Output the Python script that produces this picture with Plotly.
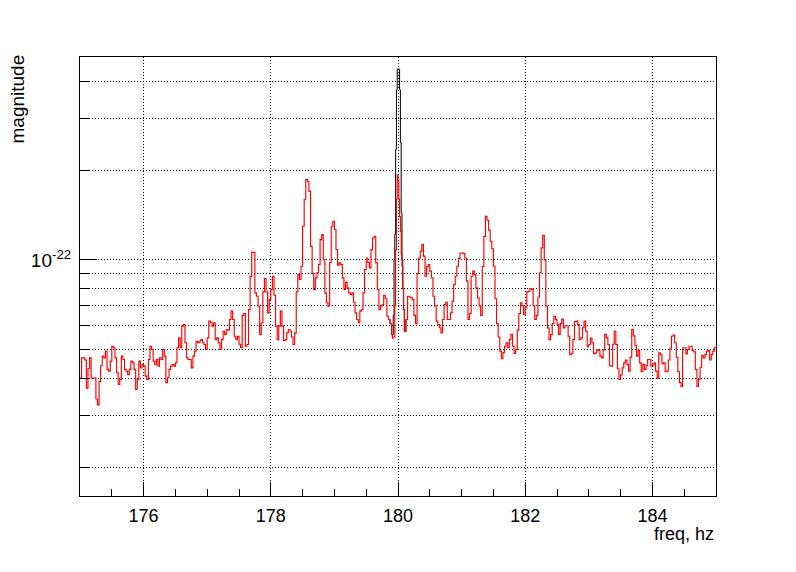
import numpy as np
import plotly.graph_objects as go

# magnitudes in units of 1e-23
SCALE = 1e-23
F_STEP = 0.025
left_start = 175.00
red_left = [
    4.0, 4.68, 4.68, 4.6, 3.7, 4.3, 4.68, 4.0, 4.0, 4.0,
    3.4, 3.25, 3.9, 4.4, 4.74, 4.68, 4.93, 4.28, 4.22, 4.56,
    5.12, 5.06, 4.68, 4.17, 3.81, 3.96, 4.74, 4.62, 4.28, 4.22,
    4.11, 4.28, 4.56, 4.5, 4.28, 3.66, 3.96, 4.56, 4.33, 4.44,
    4.39, 4.06, 3.96, 4.62, 5.12, 4.99, 4.56, 4.44, 4.62, 4.39,
    4.68, 4.62, 4.99, 4.74, 3.86, 4.01, 4.28, 4.39, 4.44, 4.39,
    4.5, 5.06, 5.46, 5.06, 5.98, 6.06, 5.26, 4.68, 4.62, 4.62,
    4.33, 4.74, 4.93, 5.32, 5.26, 5.32, 5.39, 5.26, 5.19, 4.99,
    5.46, 6.22, 6.14, 5.98, 6.14, 5.39, 5.46, 5.26, 4.99, 5.39,
    5.75, 5.61, 5.83, 5.8, 6.3, 6.72, 6.3, 5.53, 5.4, 5.53,
    5.2, 5.06, 6.5, 6.6, 5.12, 5.19, 6.8, 8.8, 10.6, 10.6,
    7.74, 7.54, 6.98, 5.61, 6.14, 7.8, 8.65, 7.8, 6.63, 7.35,
    7.94, 8.81, 7.6, 5.98, 5.39, 5.98, 6.72, 5.98, 5.35, 5.39,
    5.68, 5.83, 5.75, 5.5, 5.19, 5.68, 7.8, 8.92, 8.59, 9.52,
    12.98, 16.0, 18.63, 18.39, 17.0, 11.1, 9.0, 7.94, 8.7, 9.04,
    9.64, 11.7, 12.16, 10.02, 7.74, 7.17, 6.98, 9.8, 12.98, 13.49,
    12.65, 10.83, 9.6, 9.77, 9.64, 8.7, 7.94, 8.4, 8.05, 7.74,
    7.64, 7.74, 7.2, 6.63, 6.3, 6.14, 6.72, 6.8, 7.74, 9.28,
    10.15, 9.8, 9.4, 10.83, 11.85, 12.01, 9.77, 7.94, 6.8, 6.98,
    7.07, 7.6, 7.4, 6.46, 6.3, 6.1,
]
PEAK_STEP = 0.0125
peak_start = 179.90
red_peak = [5.6, 5.45, 5.5, 5.5, 7.0, 10.8, 16.0, 19.3,
            18.5, 16.0, 14.0, 12.5, 10.5, 9.5, 8.0, 6.8]
black_peak = [5.6, 5.6, 6.5, 10.0, 12.2, 23.5, 37.4, 43.9,
              43.9, 43.9, 37.4, 24.8, 14.4, 10.0, 8.0, 6.8]
right_start = 180.10
red_right = [
    5.75, 6.3, 7.54, 7.5, 7.45, 7.35, 6.5, 6.1, 9.0, 10.15,
    10.7, 11.26, 10.3, 8.81, 9.5, 9.64, 9.16, 8.7, 7.54, 7.0,
    6.22, 6.06, 5.91, 5.68, 6.3, 7.07, 7.2, 6.3, 6.3, 6.63,
    7.26, 8.26, 8.81, 9.52, 10.1, 10.55, 10.55, 10.5, 10.15, 8.5,
    6.3, 6.6, 8.81, 9.16, 8.9, 8.05, 7.45, 7.0, 6.5, 9.5,
    12.0, 14.02, 13.6, 12.6, 11.55, 10.9, 9.52, 7.4, 6.1, 5.5,
    4.93, 4.65, 4.87, 5.12, 5.26, 5.06, 5.39, 5.61, 5.12, 4.84,
    4.99, 5.8, 6.6, 7.17, 7.0, 6.55, 6.9, 7.8, 7.84, 8.0,
    7.94, 7.0, 6.3, 6.5, 7.5, 9.04, 10.97, 12.1, 10.0, 6.98,
    5.9, 5.39, 5.6, 6.1, 6.46, 6.3, 6.06, 5.61, 6.1, 6.32,
    5.9, 6.0, 6.0, 5.53, 4.8, 4.85, 5.39, 6.2, 6.22, 6.05,
    5.39, 5.46, 5.9, 6.22, 5.75, 5.1, 5.19, 5.45, 5.26, 4.83,
    4.86, 4.98, 4.96, 4.74, 4.68, 4.98, 5.61, 5.46, 5.19, 4.4,
    4.39, 5.2, 5.75, 5.19, 4.3, 3.96, 4.1, 4.33, 4.5, 4.6,
    4.44, 4.22, 4.7, 5.83, 5.55, 5.15, 4.74, 4.96, 4.5, 4.2,
    4.45, 4.28, 4.4, 4.62, 4.62, 4.39, 4.42, 4.5, 4.22, 4.0,
    4.86, 4.8, 4.47, 4.5, 4.2, 4.22, 4.6, 5.05, 5.53, 5.58,
    5.26, 4.7, 4.2, 3.86, 3.75, 5.06, 5.06, 4.82, 4.99, 5.12,
    5.12, 4.96, 4.9, 4.28, 3.75, 3.96, 4.35, 4.77, 4.68, 4.8,
    4.93, 4.95, 4.6, 4.8, 4.93, 5.06, 5.06,
]

x_ticks = [176, 178, 180, 182, 184]
y_major = [1e-22]
y_major_text = ["10<sup>-22</sup>"]
y_minor = [2e-23, 3e-23, 4e-23, 5e-23, 6e-23, 7e-23, 8e-23, 9e-23, 2e-22, 3e-22, 4e-22]

f_left = left_start + F_STEP * np.arange(len(red_left))
f_peak = peak_start + PEAK_STEP * np.arange(len(red_peak))
f_right = right_start + F_STEP * np.arange(len(red_right))
freq = np.concatenate([f_left, f_peak, f_right])
red = np.concatenate([red_left, red_peak, red_right]) * SCALE
black = np.concatenate([red_left, black_peak, red_right]) * SCALE
# the black spectrum coincides with the red one except around the 180 Hz line
show_black = (freq >= 179.85) & (freq <= 180.15)

FONT = "Liberation Sans, Arial, Helvetica, sans-serif"
FS = 18
fig = go.Figure()
fig.add_trace(go.Scatter(x=freq[show_black], y=black[show_black], mode="lines",
                         line=dict(color="black", width=1, shape="hv"), showlegend=False))
fig.add_trace(go.Scatter(x=freq, y=red, mode="lines",
                         line=dict(color="#ff0000", width=1.15, shape="hv"), showlegend=False))

# the page body has an 8px margin, so the figure is sized and offset for it
fig.update_layout(
    width=788, height=564,
    margin=dict(l=72, r=80, t=49, b=76),
    paper_bgcolor="white", plot_bgcolor="white",
    font=dict(family=FONT, size=FS, color="black"),
    showlegend=False,
)
fig.update_xaxes(
    range=[175, 185], tickvals=x_ticks, ticks="inside", ticklen=14, tickcolor="black",
    showline=True, linecolor="black", linewidth=1, mirror=True,
    showgrid=True, gridcolor="black", gridwidth=1, griddash="1px,2px",
    zeroline=False, ticklabelstandoff=3,
    minor=dict(dtick=0.5, tick0=175, ticks="inside", ticklen=7, tickcolor="black", showgrid=False),
)
fig.update_yaxes(
    type="log", range=[-22.795, -21.317],
    tickvals=y_major, ticktext=y_major_text, ticks="inside", ticklen=17, tickcolor="black",
    tickfont=dict(family=FONT, size=19),
    showline=True, linecolor="black", linewidth=1, mirror=True,
    showgrid=True, gridcolor="black", gridwidth=1, griddash="1px,2px",
    zeroline=False, ticklabelstandoff=4,
    minor=dict(tickvals=y_minor, ticks="inside", ticklen=10, tickcolor="black",
               showgrid=True, gridcolor="black", gridwidth=1, griddash="1px,2px"),
)
fig.add_annotation(text="freq, hz", xref="paper", yref="paper", x=1, y=0,
                   xanchor="right", yanchor="top", yshift=-26, showarrow=False,
                   font=dict(family=FONT, size=FS))
fig.add_annotation(text="magnitude", xref="paper", yref="paper", x=0, y=1,
                   xanchor="center", yanchor="top", xshift=-63, yshift=4, textangle=-90, showarrow=False,
                   font=dict(family=FONT, size=19))
fig.write_html("out.html")
